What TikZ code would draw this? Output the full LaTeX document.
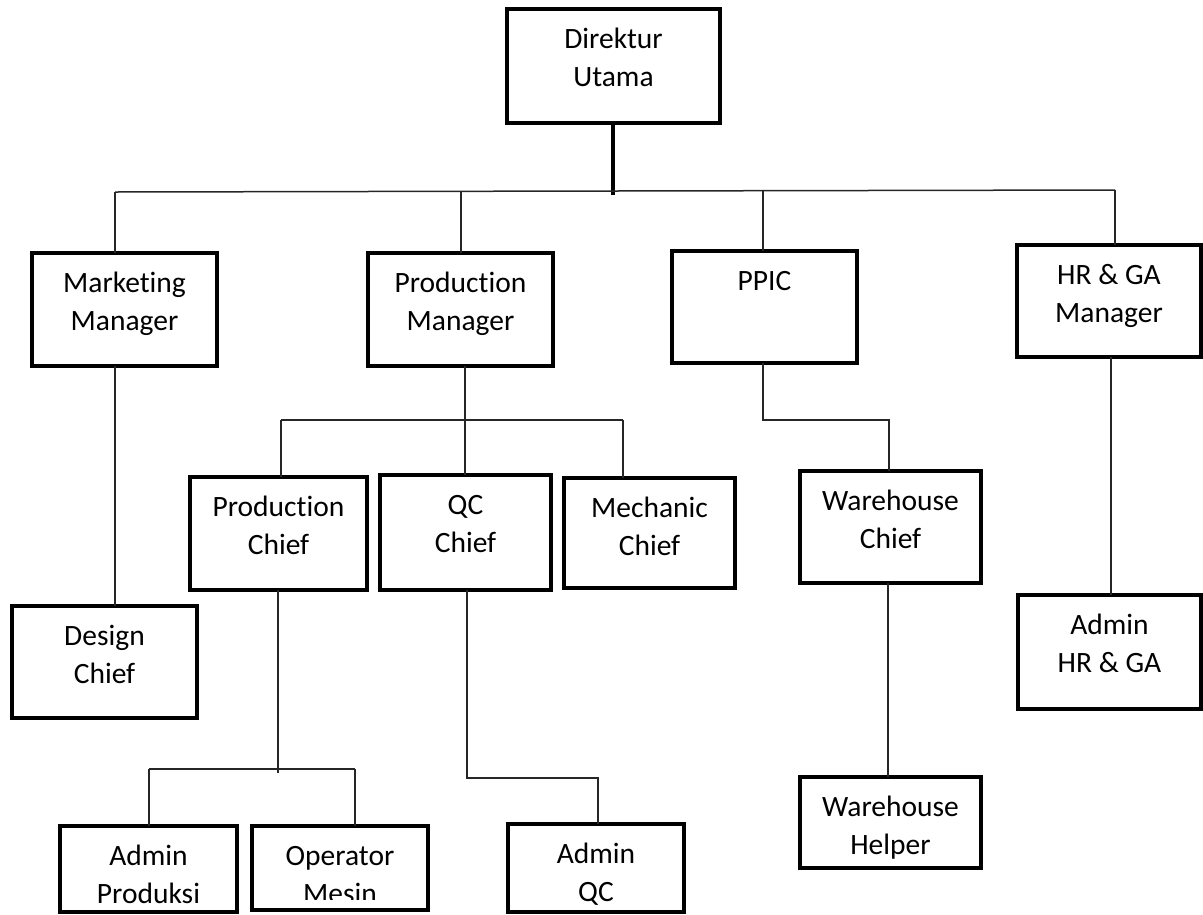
\documentclass[tikz,border=0pt]{standalone}
\usepackage{fontspec}
\setmainfont{Carlito}[RawFeature={-liga}]
\newcommand\OrgBox[6]{%
  \node[orgbox] (#1) at (#2,#3)
  {\parbox[c][\dimexpr#5pt-#3pt\relax][t]{\dimexpr#4pt-#2pt\relax}{\centering\rule{0pt}{39pt}#6}};}
\begin{document}
\begin{tikzpicture}[x=1pt,y=-1pt,
  orgbox/.style={draw, line width=3.2pt, inner sep=0pt, outer sep=0pt, anchor=north west,
    font=\fontsize{29.5}{38}\selectfont},
  boxline/.style={draw, line width=3.2pt},
  conn/.style={draw=black!85, line width=1.5pt},
  stem/.style={draw=black, line width=3.4pt}]
\useasboundingbox (0,0) rectangle (1203,914);
% boxes
\OrgBox{dir}{507}{9}{720}{123}{Direktur\\Utama}
\OrgBox{mm}{32}{253}{217}{366}{Marketing\\Manager}
\OrgBox{pm}{368}{253}{553}{366}{Production\\Manager}
\OrgBox{ppic}{672}{251}{857}{363}{PPIC}
\OrgBox{hr}{1017}{245}{1201}{357}{HR \& GA\\Manager}
\OrgBox{dc}{12}{606}{197}{718}{Design\\Chief}
\OrgBox{pc}{190}{477}{367}{590}{Production\\Chief}
\OrgBox{qc}{380}{475}{551}{590}{QC\\Chief}
\OrgBox{mc}{564}{478}{735}{588}{Mechanic\\Chief}
\OrgBox{wc}{800}{471}{981}{583}{Warehouse\\Chief}
\OrgBox{ahr}{1018}{595}{1201}{709}{Admin\\HR \& GA}
\OrgBox{ap}{60}{826}{237}{912}{Admin\\Produksi}
\begin{scope}
\clip (240,800) rectangle (440,899);
\OrgBox{om}{252}{826}{428}{910}{Operator\\Mesin}
\end{scope}
\draw[boxline] (om.north west) rectangle (om.south east);
\OrgBox{aqc}{508}{824}{684}{912}{Admin\\QC}
\OrgBox{wh}{800}{777}{981}{868}{Warehouse\\Helper}
% junction coordinates
\coordinate (top) at (613,195);
\coordinate (barL) at (115,192);
\coordinate (barR) at (1115,190);
\coordinate (jpm) at (461,191.5);
\coordinate (jppic) at (763,190.5);
\coordinate (pmbarL) at (281,420);
\coordinate (pmbarR) at (623,420);
\coordinate (pmj) at (465,420);
\coordinate (ppa) at (763,420);
\coordinate (ppb) at (889,420);
\coordinate (pcj) at (278,773);
\coordinate (pcbarL) at (149,769);
\coordinate (pcbarR) at (355,769);
\coordinate (qca) at (467,778);
\coordinate (qcb) at (598,778);
% connectors
\draw[stem] (dir.south -| top) -- (top);
\draw[conn] (barL) -- (barR);
\draw[conn] (barL) -- (barL |- mm.north);
\draw[conn] (jpm) -- (jpm |- pm.north);
\draw[conn] (jppic) -- (jppic |- ppic.north);
\draw[conn] (barR) -- (barR |- hr.north);
\draw[conn] (mm.south -| barL) -- (dc.north -| barL);
\draw[conn] (pm.south -| pmj) -- (qc.north -| pmj);
\draw[conn] (pmbarL) -- (pmbarR);
\draw[conn] (pmbarL) -- (pmbarL |- pc.north);
\draw[conn] (pmbarR) -- (pmbarR |- mc.north);
\draw[conn] (ppic.south -| ppa) -- (ppa) -- (ppb) -- (ppb |- wc.north);
\draw[conn] (hr.south -| 1111,0) -- (ahr.north -| 1111,0);
\draw[conn] (pc.south -| pcj) -- (pcj);
\draw[conn] (pcbarL) -- (pcbarR);
\draw[conn] (pcbarL) -- (pcbarL |- ap.north);
\draw[conn] (pcbarR) -- (pcbarR |- om.north);
\draw[conn] (qc.south -| qca) -- (qca) -- (qcb) -- (qcb |- aqc.north);
\draw[conn] (wc.south -| 888,0) -- (wh.north -| 888,0);
\end{tikzpicture}
\end{document}
